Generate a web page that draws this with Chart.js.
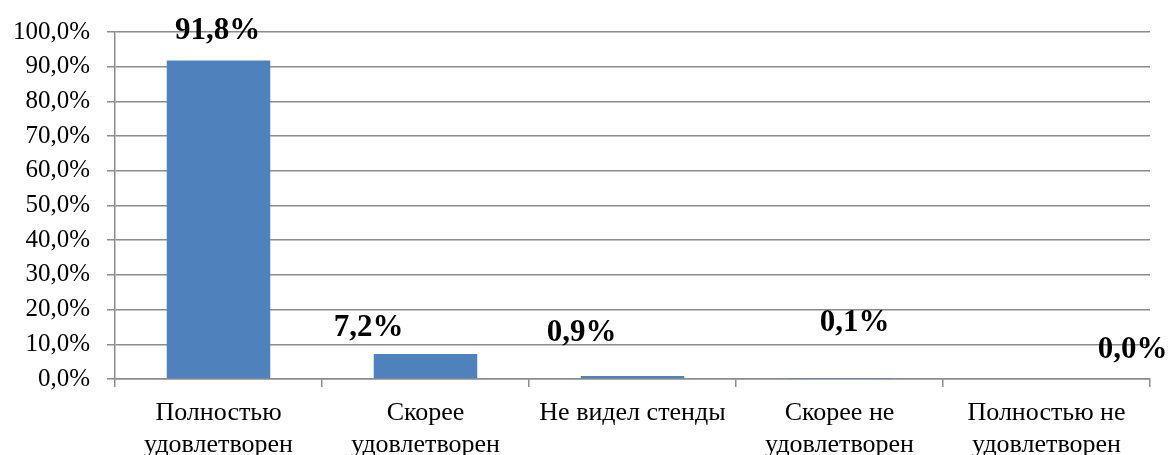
<!DOCTYPE html>
<html>
<head>
<meta charset="utf-8">
<script src="https://cdn.jsdelivr.net/npm/chart.js@4/dist/chart.umd.min.js"></script>
<style>
  html, body { margin: 0; padding: 0; background: #fff; }
  #wrap { width: 1171px; height: 455px; }
</style>
</head>
<body>
<div id="wrap"><canvas id="myChart" width="1171" height="455"></canvas></div>
<script>
// categories and values
let categories = [
  ['Полностью', 'удовлетворен'],
  ['Скорее', 'удовлетворен'],
  'Не видел стенды',
  ['Скорее не', 'удовлетворен'],
  ['Полностью не', 'удовлетворен']
]
let values = [91.8, 7.2, 0.9, 0.1, 0.0]
let yTicks = [0, 10, 20, 30, 40, 50, 60, 70, 80, 90, 100]

const fmt = (v) => v.toFixed(1).replace('.', ',') + '%'

// labels above the bars (Excel put them a bit off-center)
const barLabels = {
  id: 'barLabels',
  afterDatasetsDraw(chart, args, opts) {
    const ctx = chart.ctx
    const meta = chart.getDatasetMeta(0)
    ctx.save()
    ctx.font = 'bold 31px "Liberation Serif", "Times New Roman", serif'
    ctx.fillStyle = '#000'
    ctx.textAlign = 'center'
    ctx.textBaseline = 'middle'
    meta.data.forEach((bar, i) => {
      let off = opts.offsets[i]
      ctx.fillText(fmt(values[i]), bar.x + off[0], bar.y + off[1])
    })
    ctx.restore()
  }
}

const serif = '"Liberation Serif", "Times New Roman", serif'

new Chart(document.getElementById('myChart'), {
  type: 'bar',
  data: {
    labels: categories,
    datasets: [{
      data: values,
      backgroundColor: '#4F81BD',
      barPercentage: 0.5,
      categoryPercentage: 1.0
    }]
  },
  options: {
    responsive: false,
    animation: false,
    layout: { padding: { top: 30, right: 21, left: 0, bottom: 0 } },
    plugins: {
      legend: { display: false },
      tooltip: { enabled: false },
      barLabels: {
        offsets: [[-1, -29], [-57, -26], [-51, -43], [15, -56], [86, -29]]
      }
    },
    scales: {
      y: {
        min: 0,
        max: 100,
        afterBuildTicks: (axis) => { axis.ticks = yTicks.map((v) => ({ value: v })) },
        afterFit: (axis) => { axis.width = 115 },
        ticks: {
          callback: (v) => fmt(v),
          color: '#000',
          padding: 17,
          font: { family: serif, size: 25 }
        },
        grid: { color: '#8c8c8c', lineWidth: 1.5, tickLength: 8 },
        border: { color: '#8c8c8c', width: 1.5 }
      },
      x: {
        afterFit: (axis) => { axis.height = 76 },
        ticks: {
          color: '#000',
          padding: 11,
          maxRotation: 0,
          autoSkip: false,
          font: { family: serif, size: 26, lineHeight: 1.2 }
        },
        grid: { display: true, drawOnChartArea: false, color: '#8c8c8c', lineWidth: 1.5, tickLength: 8, offset: true },
        border: { color: '#8c8c8c', width: 1.5 }
      }
    }
  },
  plugins: [barLabels]
})
</script>
</body>
</html>
